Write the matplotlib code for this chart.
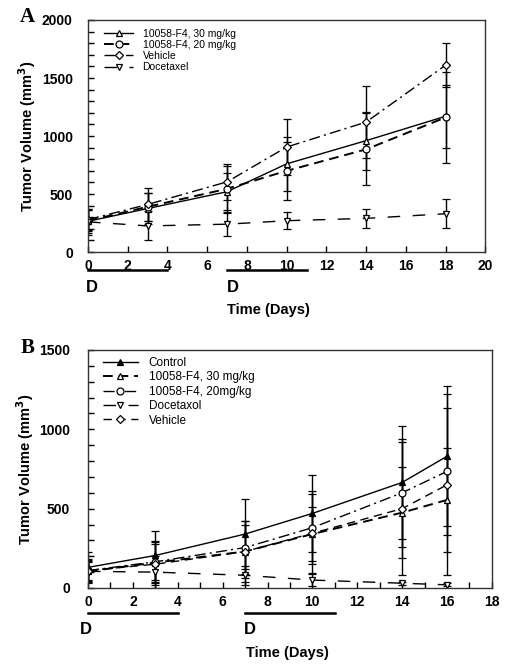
import matplotlib.pyplot as plt
import numpy as np

plt.rcParams['font.family'] = ['Liberation Sans', 'DejaVu Sans']

# ---- Panel A data ----
days_a = np.array([0, 3, 7, 10, 14, 18])
labels_a = ['10058-F4, 30 mg/kg', '10058-F4, 20 mg/kg', 'Vehicle', 'Docetaxel']
a_30 = np.array([265, 375, 520, 760, 960, 1170])
a_30_err = np.array([100, 130, 160, 230, 250, 270])
a_20 = np.array([270, 390, 545, 700, 885, 1160])
a_20_err = np.array([90, 120, 200, 250, 310, 390])
a_veh = np.array([280, 410, 605, 905, 1120, 1610])
a_veh_err = np.array([90, 140, 155, 245, 310, 190])
a_doc = np.array([260, 225, 240, 270, 290, 330])
a_doc_err = np.array([110, 125, 100, 75, 85, 125])

# ---- Panel B data ----
days_b = np.array([0, 3, 7, 10, 14, 16])
labels_b = ['Control', '10058-F4, 30 mg/kg', '10058-F4, 20mg/kg', 'Docetaxol', 'Vehicle']
b_ctrl = np.array([130, 205, 340, 470, 665, 830])
b_ctrl_err = np.array([100, 155, 220, 245, 355, 440])
b_30 = np.array([105, 160, 230, 340, 475, 555])
b_30_err = np.array([70, 130, 170, 170, 285, 330])
b_20 = np.array([110, 165, 255, 380, 600, 735])
b_20_err = np.array([70, 130, 165, 230, 340, 400])
b_doc = np.array([105, 100, 80, 50, 30, 20])
b_doc_err = np.array([60, 100, 60, 40, 10, 10])
b_veh = np.array([110, 150, 230, 345, 500, 650])
b_veh_err = np.array([60, 130, 190, 250, 420, 570])

fig = plt.figure(figsize=(5.06, 6.71), dpi=100)
ax1 = fig.add_axes([0.174, 0.6244, 0.785, 0.3458])
ax2 = fig.add_axes([0.174, 0.1237, 0.798, 0.3547])

def series(ax, x, y, err, marker, ls, fill='white', lw=1.0):
    ms = 4 if marker == 'D' else 5
    c = ax.errorbar(x, y, yerr=err, color='black', marker=marker, markersize=ms,
                    markerfacecolor=fill, markeredgecolor='black', markeredgewidth=0.9,
                    linestyle=ls, linewidth=lw, elinewidth=1.0, capsize=3, capthick=1.0)
    return c[0]

dash_long = (0, (9, 9))
h1 = [
    series(ax1, days_a, a_30, a_30_err, '^', '-'),
    series(ax1, days_a, a_20, a_20_err, 'o', (0, (5, 3)), lw=1.4),
    series(ax1, days_a, a_veh, a_veh_err, 'D', (0, (8, 3, 1.5, 3))),
    series(ax1, days_a, a_doc, a_doc_err, 'v', dash_long),
]

h2 = [
    series(ax2, days_b, b_ctrl, b_ctrl_err, '^', '-', fill='black'),
    series(ax2, days_b, b_30, b_30_err, '^', (0, (5, 3)), lw=1.4),
    series(ax2, days_b, b_20, b_20_err, 'o', (0, (8, 3, 1.5, 3))),
    series(ax2, days_b, b_doc, b_doc_err, 'v', dash_long),
    series(ax2, days_b, b_veh, b_veh_err, 'D', (0, (6, 4))),
]

ax1.set_xlim(0, 20)
ax1.set_ylim(0, 2000)
ax1.set_xticks(np.arange(0, 21, 2))
ax1.set_yticks(np.arange(0, 2001, 500))
ax1.set_yticks(np.arange(0, 2001, 100), minor=True)

ax2.set_xlim(0, 18)
ax2.set_ylim(0, 1500)
ax2.set_xticks(np.arange(0, 19, 2))
ax2.set_xticks(np.arange(0, 19, 1), minor=True)
ax2.set_yticks(np.arange(0, 1501, 500))
ax2.set_yticks(np.arange(0, 1501, 100), minor=True)

for ax, ypad in ((ax1, 11), (ax2, 13)):
    ax.tick_params(axis='both', which='both', direction='in', length=4, width=1)
    ax.tick_params(axis='y', pad=ypad)
    ax.tick_params(axis='x', pad=5)
    for lab in ax.get_xticklabels() + ax.get_yticklabels():
        lab.set_fontweight('bold')
        lab.set_fontsize(10)
    for s in ax.spines.values():
        s.set_linewidth(1.0)
        s.set_color('#333333')

ax1.set_ylabel('Tumor Volume (mm$^\\mathbf{3}$)', fontsize=10.5, fontweight='bold', labelpad=3)
ax2.set_ylabel('Tumor Volume (mm$^\\mathbf{3}$)', fontsize=10.5, fontweight='bold', labelpad=2)

# dosing bars and labels
tr1 = ax1.get_xaxis_transform()
ax1.plot([0, 4], [-0.078, -0.078], color='black', lw=1.8, transform=tr1, clip_on=False)
ax1.plot([7, 11], [-0.078, -0.078], color='black', lw=1.8, transform=tr1, clip_on=False)
ax1.text(0.2, -0.155, 'D', transform=tr1, ha='center', va='center', fontsize=12, fontweight='bold')
ax1.text(7.3, -0.155, 'D', transform=tr1, ha='center', va='center', fontsize=12, fontweight='bold')
ax1.text(9.1, -0.25, 'Time (Days)', transform=tr1, ha='center', va='center', fontsize=10.5, fontweight='bold')

tr2 = ax2.get_xaxis_transform()
ax2.plot([0, 4], [-0.105, -0.105], color='black', lw=1.8, transform=tr2, clip_on=False)
ax2.plot([7, 11], [-0.105, -0.105], color='black', lw=1.8, transform=tr2, clip_on=False)
ax2.text(-0.1, -0.176, 'D', transform=tr2, ha='center', va='center', fontsize=12, fontweight='bold')
ax2.text(7.2, -0.176, 'D', transform=tr2, ha='center', va='center', fontsize=12, fontweight='bold')
ax2.text(8.9, -0.273, 'Time (Days)', transform=tr2, ha='center', va='center', fontsize=10.5, fontweight='bold')

# legends (line + marker only, no error bars)
ax1.legend(h1, labels_a, loc='upper left', bbox_to_anchor=(0.035, 0.97),
           frameon=False, fontsize=7.5, handlelength=2.8, handletextpad=0.9,
           labelspacing=0.1, borderpad=0.2, borderaxespad=0)
ax2.legend(h2, labels_b, loc='upper left', bbox_to_anchor=(0.03, 0.98),
           frameon=False, fontsize=8.5, handlelength=3.0, handletextpad=0.9,
           labelspacing=0.2, borderpad=0.2, borderaxespad=0)

fig.text(0.04, 0.975, 'A', family='Liberation Serif', fontsize=15, fontweight='bold', va='center')
fig.text(0.04, 0.482, 'B', family='Liberation Serif', fontsize=15, fontweight='bold', va='center')

plt.savefig('out.png', dpi=100)
